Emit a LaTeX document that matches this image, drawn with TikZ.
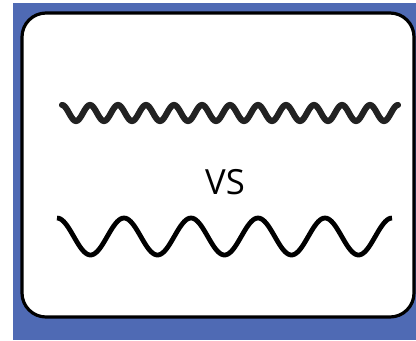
\documentclass[tikz,border=0pt]{standalone}
\usepackage{fontspec}
\setmainfont{Open Sans}
\usetikzlibrary{positioning}

\definecolor{slideblue}{RGB}{79,106,180}
\definecolor{waveink}{RGB}{34,34,34}

\begin{document}
\begin{tikzpicture}[x=0.75pt,y=0.75pt,yscale=-1,xscale=1]
	%set diagram left start at 0, and has height of 340
	\useasboundingbox (0,0) rectangle (416,340);
	
	%Shape: Rectangle [background]
	\fill [slideblue] (13,3) rectangle (416,340);
	%Shape: Rounded Rectangle [card]
	\draw [line width=2.4pt, fill=white, rounded corners=18pt] (22,13) rectangle (414,317);
	
	%Curve: short wave
	\draw [waveink, line width=4.6pt, line cap=round] plot [domain=0:336, samples=241, smooth] ({62+\x}, {113-8*cos(\x/28*360)});
	%Curve: long wave
	\draw [black, line width=3.6pt] plot [domain=0:335, samples=201, smooth] ({57+\x}, {236.5-18.5*cos(\x/67*360)});
	
	% Text Node
	\draw (225,182) node (vs) [inner sep=0.75pt, font=\fontsize{26}{30}\selectfont] {VS};
	
\end{tikzpicture}
\end{document}
